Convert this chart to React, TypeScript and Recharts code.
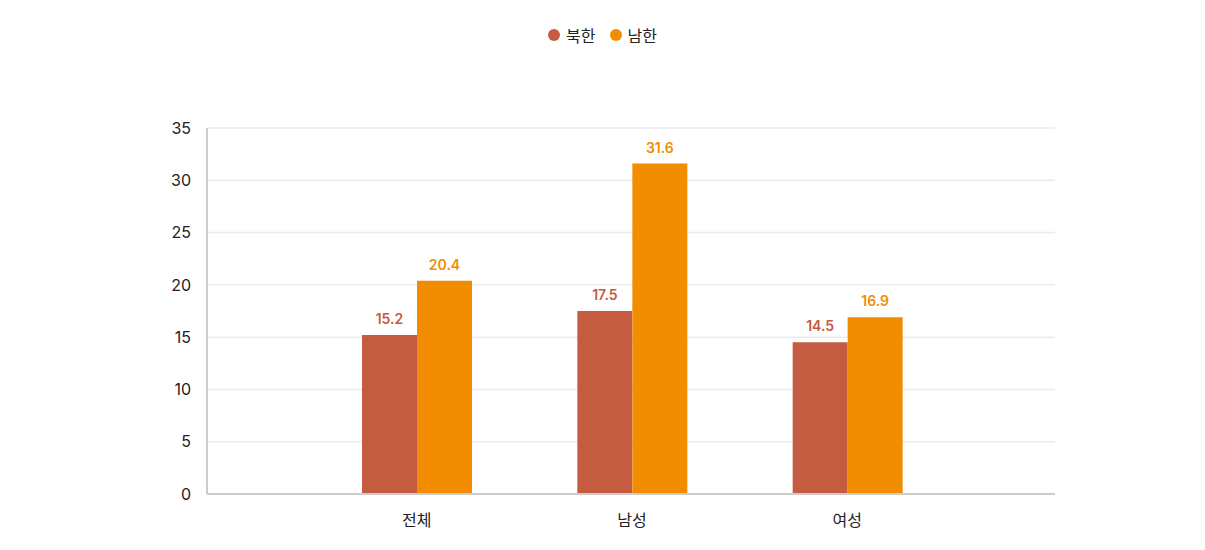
import React from 'react';
import { BarChart, Bar, XAxis, YAxis, CartesianGrid, Legend, LabelList } from 'recharts';

const categories = ['전체', '남성', '여성'];
const northValues = [15.2, 17.5, 14.5];
const southValues = [20.4, 31.6, 16.9];
const yTicks = [0, 5, 10, 15, 20, 25, 30, 35];

const data = categories.map((name, i) => ({ name, north: northValues[i], south: southValues[i] }));

const FONT = 'Inter, "Noto Sans CJK KR", sans-serif';
const NORTH = '#C45C42';
const SOUTH = '#F28C00';

const legendItems = [
  { label: '북한', color: NORTH },
  { label: '남한', color: SOUTH },
];

const LegendContent = () => (
  <div style={{ display: 'flex', justifyContent: 'center', gap: 14, fontSize: 16, color: '#222', fontFamily: FONT }}>
    {legendItems.map((it) => (
      <div key={it.label} style={{ display: 'flex', alignItems: 'center', gap: 6 }}>
        <span style={{ width: 12, height: 12, borderRadius: '50%', background: it.color, display: 'inline-block' }} />
        <span>{it.label}</span>
      </div>
    ))}
  </div>
);

export default function App() {
  return (
    <div style={{ width: 1205, height: 550, fontFamily: FONT }}>
      <style>{'body{margin:0}'}</style>
      <BarChart
        width={1205}
        height={550}
        data={data}
        margin={{ top: 104, right: 150, left: 0, bottom: 26 }}
        barGap={0}
        barCategoryGap={0}
      >
        <CartesianGrid vertical={false} stroke="#ebebeb" strokeWidth={1.5} />
        <XAxis
          dataKey="name"
          padding={{ left: 102, right: 100 }}
          tickLine={false}
          axisLine={{ stroke: '#cccccc', strokeWidth: 2 }}
          tick={{ fill: '#222', fontSize: 16, fontFamily: FONT }}
          tickMargin={15}
          height={30}
        />
        <YAxis
          domain={[0, 35]}
          ticks={yTicks}
          width={207}
          tickLine={false}
          tickSize={0}
          tickMargin={16}
          axisLine={{ stroke: '#cccccc', strokeWidth: 2 }}
          tick={{ fill: '#222', fontSize: 16, fontFamily: FONT }}
        />
        <Legend
          verticalAlign="top"
          align="center"
          content={<LegendContent />}
          wrapperStyle={{ top: 23, left: 0, width: 1205 }}
        />
        <Bar dataKey="north" name="북한" fill={NORTH} barSize={55} isAnimationActive={false}>
          <LabelList dataKey="north" position="top" offset={11} fill={NORTH} fontSize={14} fontWeight={600} fontFamily={FONT} />
        </Bar>
        <Bar dataKey="south" name="남한" fill={SOUTH} barSize={55} isAnimationActive={false}>
          <LabelList dataKey="south" position="top" offset={11} fill={SOUTH} fontSize={14} fontWeight={600} fontFamily={FONT} />
        </Bar>
      </BarChart>
    </div>
  );
}
